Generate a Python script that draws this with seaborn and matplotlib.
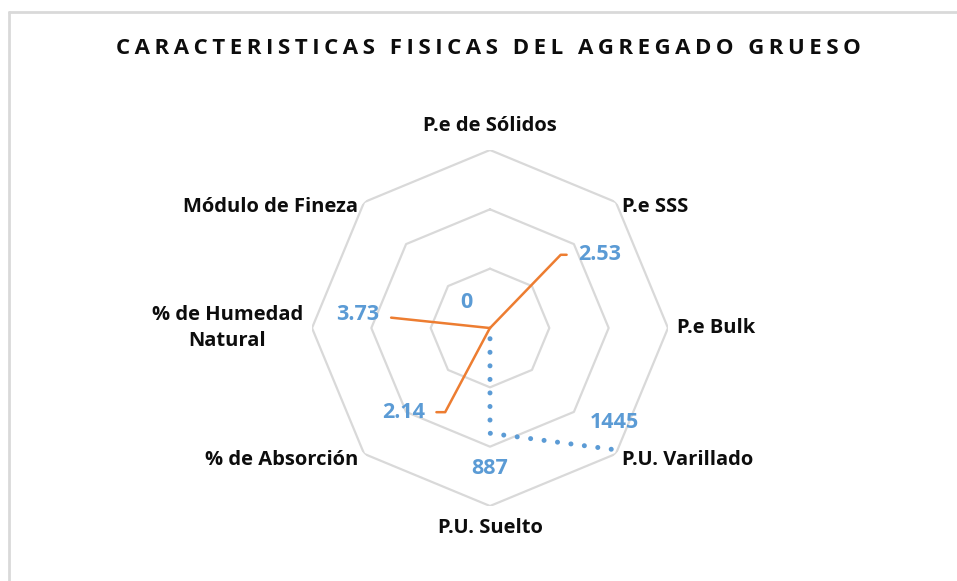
import numpy as np
import pandas as pd
import seaborn as sns
import matplotlib.pyplot as plt
from matplotlib.lines import Line2D

sns.set_style('white')
plt.rcParams['font.family'] = ['Open Sans', 'DejaVu Sans']

# data
categories = ['P.e de Sólidos', 'P.e SSS', 'P.e Bulk', 'P.U. Varillado',
              'P.U. Suelto', '% de Absorción', '% de Humedad\nNatural', 'Módulo de Fineza']
serie_azul = [0, np.nan, np.nan, 1445, 887, 0, np.nan, np.nan]
serie_naranja = [np.nan, 2.53, np.nan, np.nan, np.nan, 2.14, 3.73, np.nan]
rings = [500, 1000, 1500]
title = 'CARACTERISTICAS FISICAS DEL AGREGADO GRUESO'

azul = '#5B9BD5'
naranja = '#ED7D31'
gris = '#D9D9D9'

W, H = 957, 581
fig = plt.figure(figsize=(W / 100, H / 100), dpi=100)
cx, cy, R = 490, 328, 178
ax = fig.add_axes([(cx - R) / W, (H - cy - R) / H, 2 * R / W, 2 * R / H], projection='polar')
ax.set_theta_zero_location('N')
ax.set_theta_direction(-1)

n = len(categories)
theta = np.arange(n) * 2 * np.pi / n
theta_c = np.append(theta, theta[0])

# octagon grid
for r in rings:
    ax.plot(theta_c, [r] * (n + 1), color=gris, lw=1.6, zorder=1)

# blue dotted series (only the connected stretch)
df = pd.DataFrame({'theta': theta, 'valor': serie_azul, 'cat': categories})
seg = df.iloc[[3, 4, 5]]
sns.lineplot(data=seg, x='theta', y='valor', sort=False, estimator=None, ax=ax,
             color=azul, lw=3.6, linestyle=(0, (0.01, 2.7)), dash_capstyle='round', zorder=3)

dfo = pd.DataFrame({'theta': theta, 'valor': serie_naranja}).dropna()
sns.lineplot(data=dfo, x='theta', y='valor', sort=False, estimator=None, ax=ax,
             color=naranja, lw=1.8, zorder=3)

ax.set_ylim(0, 1500)
ax.set_xlabel('')
ax.set_ylabel('')
ax.set_xticks([])
ax.set_yticks([])
ax.grid(False)
ax.spines['polar'].set_visible(False)

lbl = dict(fontsize=14.5, fontweight='bold', color='#0D0D0D')
# category labels: offset in pixels, alignment
lab_pos = [((0, 14), 'center', 'bottom'), ((6, -5), 'left', 'center'),
           ((9, 0), 'left', 'center'), ((6, -6), 'left', 'center'),
           ((0, -12), 'center', 'top'), ((-6, -6), 'right', 'center'),
           ((-9, 0), 'right', 'center'), ((-6, -5), 'right', 'center')]
for t, name, (off, ha, va) in zip(theta, categories, lab_pos):
    ax.annotate(name, xy=(t, 1500), xytext=off, textcoords='offset pixels',
                ha=ha, va=va, multialignment='center', linespacing=1.35,
                annotation_clip=False, **lbl)

dl = dict(fontsize=15.5, fontweight='bold', color=azul)
# blue labels
ax.annotate('0', xy=(theta[0], serie_azul[0]), xytext=(-24, 26), textcoords='offset pixels',
            ha='center', va='center', **dl)
ax.annotate(str(serie_azul[3]), xy=(theta[3], serie_azul[3]), xytext=(3, 27),
            textcoords='offset pixels', ha='center', va='center', **dl)
ax.annotate(str(serie_azul[4]), xy=(theta[4], serie_azul[4]), xytext=(0, -35),
            textcoords='offset pixels', ha='center', va='center', **dl)

# orange values: labels dragged out with leader lines
lead = [(1, (88, 73), 'left', 46), (5, (-65, -84), 'right', 62), (6, (-110, 13), 'right', -6)]
for i, off, ha, ang in lead:
    ax.annotate(f'{serie_naranja[i]:.2f}', xy=(theta[i], serie_naranja[i]), xytext=off,
                textcoords='offset pixels', ha=ha, va='center', **dl,
                arrowprops=dict(arrowstyle='-', color=naranja, lw=1.8, shrinkA=6, shrinkB=0,
                                relpos=(0 if ha == 'left' else 1, 0.5),
                                connectionstyle=f'angle,angleA=0,angleB={ang},rad=0'))

fig.text(488 / W, 1 - 48 / H, '\u2009'.join(title), ha='center', va='center',
         fontsize=16, fontweight='bold', color='#0D0D0D')

# chart frame (left and top edges visible)
fig.add_artist(Line2D([9 / W, 9 / W], [0, 1 - 12 / H], color=gris, lw=2, transform=fig.transFigure))
fig.add_artist(Line2D([9 / W, 1], [1 - 12 / H, 1 - 12 / H], color=gris, lw=2, transform=fig.transFigure))

fig.savefig('out.png', dpi=100)
